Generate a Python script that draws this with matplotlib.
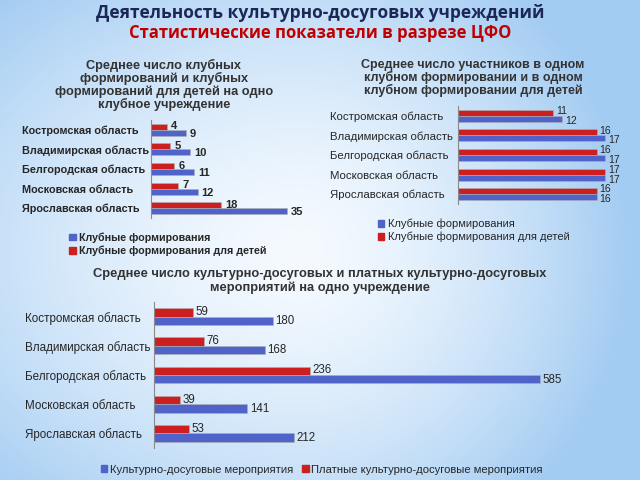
import numpy as np
import matplotlib
matplotlib.use("Agg")
import matplotlib.pyplot as plt
from matplotlib.patches import Patch

# --------------------------------
# data
# --------------------------------
regions = ["Костромская область", "Владимирская область", "Белгородская область",
           "Московская область", "Ярославская область"]

# chart 1: clubs per institution
clubs = [9, 10, 11, 12, 35]
clubs_kids = [4, 5, 6, 7, 18]

# chart 2: participants per club
members = [12, 17, 17, 17, 16]
members_kids = [11, 16, 16, 17, 16]

# chart 3: events per institution
events = [180, 168, 585, 141, 212]
events_paid = [59, 76, 236, 39, 53]

BLUE = "#4f63c8"
RED = "#cc2020"
TXT = "#262626"

W, H = 640, 480
fig = plt.figure(figsize=(6.4, 4.8), dpi=100)

# --------------------------------
# background gradient
# --------------------------------
yy, xx = np.mgrid[0:H, 0:W]
dx = np.where(xx < 300, (xx - 300) / 450.0, (xx - 300) / 330.0)
dy = (yy - 250) / 340.0
t = np.clip(np.sqrt(dx ** 2 + dy ** 2), 0, 1) ** 1.5
c0 = np.array([0.96, 0.98, 1.0])
c1 = np.array([0.64, 0.80, 0.95])
bg = c0[None, None, :] * (1 - t[..., None]) + c1[None, None, :] * t[..., None]
bgax = fig.add_axes([0, 0, 1, 1])
bgax.imshow(bg, aspect="auto", extent=[0, W, H, 0])
bgax.axis("off")


def fx(px):
    return px / W


def fy(py):
    return 1 - py / H


def add_px_axes(left, top, width, height):
    return fig.add_axes([fx(left), fy(top + height), width / W, height / H])


def barh_pair(ax, blue_vals, red_vals, bh, lab_size, lab_weight, pad_px, xmax):
    pos = np.arange(len(regions))
    ax.barh(pos - bh / 2, red_vals, height=bh, color=RED, edgecolor="#b0b0b0", linewidth=0.4)
    ax.barh(pos + bh / 2, blue_vals, height=bh, color=BLUE, edgecolor="#b0b0b0", linewidth=0.4)
    ax.set_xlim(0, xmax)
    ax.set_ylim(len(regions) - 0.5, -0.5)
    ax.patch.set_alpha(0)
    for s in ["top", "right", "bottom"]:
        ax.spines[s].set_visible(False)
    ax.spines["left"].set_color("#8a8a8a")
    ax.set_xticks([])
    ax.set_yticks(pos)
    ax.set_yticklabels(regions, family="Liberation Sans", fontsize=lab_size, weight=lab_weight, color=TXT)
    for lab in ax.get_yticklabels():
        lab.set_horizontalalignment("left")
    ax.tick_params(axis="y", length=0, pad=pad_px * 0.72)
    return pos


# --------------------------------
# titles
# --------------------------------
fig.text(fx(320), fy(13), "Деятельность культурно-досуговых учреждений", ha="center", va="center",
         family="Open Sans", weight="bold", fontsize=12.5, color="#1c2757")
fig.text(fx(320), fy(33), "Статистические показатели в разрезе ЦФО", ha="center", va="center",
         family="Open Sans", weight="bold", fontsize=12, color="#c00000")

# --------------------------------
# chart 1
# --------------------------------
fig.text(fx(164), fy(85), "Среднее число клубных\nформирований и клубных\nформирований для детей на одно\nклубное учреждение",
         ha="center", va="center", family="Liberation Sans", weight="bold", fontsize=9.2,
         color="#333333", linespacing=1.0)
ax1 = add_px_axes(151, 120, 160, 98)
pos = barh_pair(ax1, clubs, clubs_kids, 0.31, 7.8, "bold", 129, 160 / 3.88)
for i in pos:
    ax1.annotate(str(clubs_kids[i]), (clubs_kids[i], i - 0.17), xytext=(3, 0), textcoords="offset points",
                 va="center", ha="left", fontsize=8, weight="bold", color=TXT, family="Liberation Sans")
    ax1.annotate(str(clubs[i]), (clubs[i], i + 0.2), xytext=(3, 0), textcoords="offset points",
                 va="center", ha="left", fontsize=8, weight="bold", color=TXT, family="Liberation Sans")
fig.legend(handles=[Patch(color=BLUE, label="Клубные формирования"),
                    Patch(color=RED, label="Клубные формирования для детей")],
           loc="upper left", bbox_to_anchor=(fx(64), fy(227)), frameon=False, borderpad=0,
           handlelength=0.6, handleheight=0.6, handletextpad=0.3, labelspacing=0.25,
           prop={"family": "Liberation Sans", "size": 7.7, "weight": "bold"}, labelcolor=TXT)

# --------------------------------
# chart 2
# --------------------------------
fig.text(fx(473), fy(78), "Среднее число участников в одном\nклубном формировании и в одном\nклубном формировании для детей",
         ha="center", va="center", family="Liberation Sans", weight="bold", fontsize=9.0,
         color="#333333", linespacing=1.0)
ax2 = add_px_axes(458, 106, 170, 98)
pos = barh_pair(ax2, members, members_kids, 0.31, 8.2, "normal", 128, 170 / 8.67)
for i in pos:
    ax2.annotate(str(members_kids[i]), (members_kids[i], i - 0.24), xytext=(2, 0), textcoords="offset points",
                 va="center", ha="left", fontsize=7.5, color=TXT, family="Liberation Sans")
    ax2.annotate(str(members[i]), (members[i], i + 0.26), xytext=(2, 0), textcoords="offset points",
                 va="center", ha="left", fontsize=7.5, color=TXT, family="Liberation Sans")
fig.legend(handles=[Patch(color=BLUE, label="Клубные формирования"),
                    Patch(color=RED, label="Клубные формирования для детей")],
           loc="upper left", bbox_to_anchor=(fx(372), fy(213)), frameon=False, borderpad=0,
           handlelength=0.6, handleheight=0.6, handletextpad=0.3, labelspacing=0.25,
           prop={"family": "Liberation Sans", "size": 8}, labelcolor=TXT)

# --------------------------------
# chart 3
# --------------------------------
fig.text(fx(320), fy(281), "Среднее число культурно-досуговых и платных культурно-досуговых\nмероприятий на одно учреждение",
         ha="center", va="center", family="Liberation Sans", weight="bold", fontsize=9.3,
         color="#333333", linespacing=1.1)
ax3 = add_px_axes(154, 302, 450, 146)
pos = barh_pair(ax3, events, events_paid, 0.29, 8.4, "normal", 129, 450 / 0.66)
for i in pos:
    ax3.annotate(str(events_paid[i]), (events_paid[i], i - 0.16), xytext=(2, 0), textcoords="offset points",
                 va="center", ha="left", fontsize=8.3, color=TXT, family="Liberation Sans")
    ax3.annotate(str(events[i]), (events[i], i + 0.16), xytext=(2, 0), textcoords="offset points",
                 va="center", ha="left", fontsize=8.3, color=TXT, family="Liberation Sans")
fig.legend(handles=[Patch(color=BLUE, label="Культурно-досуговые мероприятия"),
                    Patch(color=RED, label="Платные культурно-досуговые мероприятия")],
           loc="upper left", bbox_to_anchor=(fx(95), fy(459)), frameon=False, borderpad=0, ncol=2,
           handlelength=0.6, handleheight=0.6, handletextpad=0.2, columnspacing=0.8,
           prop={"family": "Liberation Sans", "size": 8.1}, labelcolor=TXT)

fig.savefig("out.png", dpi=100)
